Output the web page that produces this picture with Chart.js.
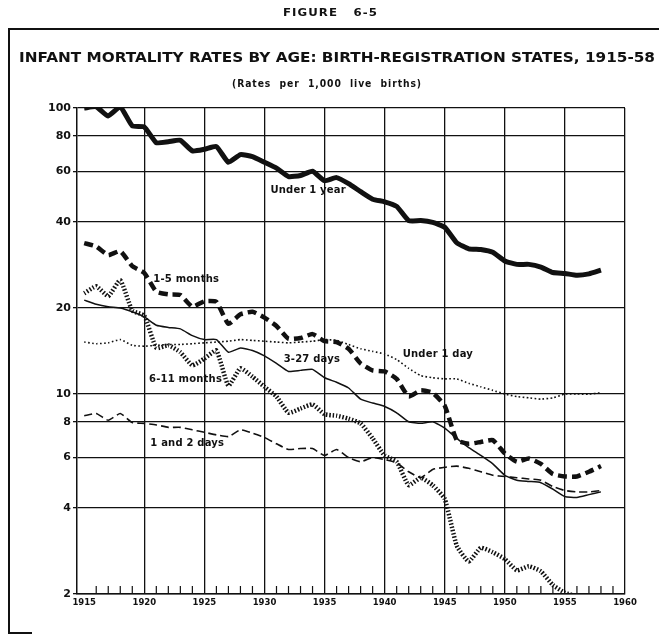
<!DOCTYPE html>
<html>
<head>
<meta charset="utf-8">
<script src="https://cdn.jsdelivr.net/npm/chart.js@4"></script>
<style>
body{margin:0;background:#fff;}
#wrap{position:relative;width:659px;height:641px;overflow:hidden;background:#fff;font-family:"DejaVu Sans",sans-serif;color:#111;}
canvas{position:absolute;left:0;top:0;}
.t{position:absolute;white-space:nowrap;transform-origin:0 0;}
.ln{position:absolute;background:#111;}
</style>
</head>
<body>
<div id="wrap">
<canvas id="c" width="659" height="641"></canvas>
<div class="t" id="fig" style="top:6px;font-size:11px;font-weight:bold;letter-spacing:1px">FIGURE&nbsp;&nbsp;&nbsp;6-5</div>
<div class="ln" style="left:8px;top:28px;width:651px;height:2px"></div>
<div class="ln" style="left:8px;top:28px;width:2px;height:606px"></div>
<div class="ln" style="left:8px;top:632px;width:24px;height:2px"></div>
<div class="t" id="title" style="top:49px;font-size:14px;font-weight:bold">INFANT MORTALITY RATES BY AGE: BIRTH-REGISTRATION STATES, 1915-58</div>
<div class="t" id="sub" style="top:78px;font-size:10px;font-weight:bold;letter-spacing:1px">(Rates&nbsp; per&nbsp; 1,000&nbsp; live&nbsp; births)</div>
</div>
<script>
const years = [1915,1916,1917,1918,1919,1920,1921,1922,1923,1924,1925,1926,1927,1928,1929,
  1930,1931,1932,1933,1934,1935,1936,1937,1938,1939,1940,1941,1942,1943,1944,
  1945,1946,1947,1948,1949,1950,1951,1952,1953,1954,1955,1956,1957,1958];

const under1Year = [99.9,101.0,93.8,100.9,86.6,85.8,75.6,76.2,77.1,70.8,71.7,73.3,64.6,68.7,67.6,
  64.6,61.6,57.6,58.1,60.1,55.7,57.1,54.4,51.0,48.0,47.0,45.3,40.4,40.4,39.8,
  38.3,33.8,32.2,32.0,31.3,29.2,28.4,28.4,27.8,26.6,26.4,26.0,26.3,27.1];

const months1to5 = [33.7,32.8,30.6,31.6,28.0,26.5,22.8,22.3,22.2,20.2,21.1,21.0,17.6,19.0,19.4,
  18.5,17.3,15.6,15.7,16.2,15.3,15.2,14.4,12.8,12.1,12.0,11.3,9.8,10.3,10.1,
  9.1,6.9,6.7,6.8,6.9,6.2,5.8,5.95,5.7,5.25,5.15,5.15,5.35,5.6];

const days3to27 = [21.3,20.6,20.2,20.0,19.4,18.6,17.4,17.1,16.9,16.0,15.5,15.5,14.0,14.5,14.2,
  13.6,12.8,12.0,12.1,12.2,11.4,11.0,10.5,9.6,9.3,9.05,8.6,8.0,7.9,8.0,
  7.6,7.0,6.5,6.1,5.7,5.2,5.0,4.95,4.9,4.65,4.38,4.35,4.45,4.55];

const under1Day = [15.2,15.0,15.1,15.5,14.8,14.7,14.8,14.9,14.9,15.0,15.1,15.2,15.3,15.5,15.4,
  15.3,15.2,15.1,15.2,15.3,15.5,15.4,14.9,14.4,14.1,13.8,13.2,12.3,11.6,11.4,
  11.3,11.3,10.9,10.6,10.3,10.0,9.8,9.7,9.6,9.7,10.0,10.0,10.0,10.1];

const months6to11 = [22.5,23.8,22.0,25.0,19.6,18.8,14.5,14.8,14.0,12.6,13.3,14.2,10.7,12.3,11.5,
  10.6,9.8,8.6,8.9,9.2,8.5,8.4,8.2,7.9,7.0,6.1,5.8,4.8,5.1,4.8,
  4.3,2.95,2.6,2.9,2.8,2.65,2.42,2.5,2.4,2.15,2.02,1.96,1.9,1.85];

const days1and2 = [8.4,8.55,8.1,8.55,7.95,7.9,7.8,7.65,7.65,7.5,7.35,7.2,7.1,7.5,7.3,
  7.05,6.7,6.4,6.45,6.45,6.1,6.4,6.0,5.8,6.0,5.9,5.75,5.35,5.1,5.45,
  5.55,5.6,5.5,5.35,5.2,5.15,5.1,5.05,5.0,4.75,4.6,4.55,4.55,4.6];

const yTicks = [2,4,6,8,10,20,40,60,80,100];
const tickYears = [1915,1916,1917,1918,1919,1920,1921,1922,1923,1924,1925,1926,1927,1928,1929,
  1930,1931,1932,1933,1934,1935,1936,1937,1938,1939,1940,1941,1942,1943,1944,
  1945,1946,1947,1948,1949,1950,1951,1952,1953,1954,1955,1956,1957,1958,1959,1960];

// where the curve names sit, in data units (year, rate)
const lineLabels = [
  {text:'Under 1 year', x:1930.5, y:51.6},
  {text:'1-5 months', x:1920.75, y:25.1},
  {text:'3-27 days', x:1931.6, y:13.2},
  {text:'Under 1 day', x:1941.5, y:13.75},
  {text:'6-11 months', x:1920.4, y:11.25},
  {text:'1 and 2 days', x:1920.5, y:6.73}
];

function fit(id, left, width){
  const el = document.getElementById(id);
  const w = el.getBoundingClientRect().width;
  el.style.left = left + 'px';
  el.style.transform = 'scaleX(' + (width / w) + ')';
}
fit('fig', 283, 95);
fit('title', 19, 636);
fit('sub', 232, 190);

const ink = '#111';
function series(vals){ return vals.map((v,i)=>({x:years[i], y:v})); }

const sets = [
  {label:'Under 1 year', data:series(under1Year), borderWidth:5},
  {label:'1-5 months', data:series(months1to5), borderWidth:4.5, borderDash:[9,5]},
  {label:'6-11 months', data:series(months6to11), borderWidth:4.5, borderDash:[1.5,1.8]},
  {label:'3-27 days', data:series(days3to27), borderWidth:1.5},
  {label:'Under 1 day', data:series(under1Day), borderWidth:1.6, borderDash:[1.6,2.4]},
  {label:'1 and 2 days', data:series(days1and2), borderWidth:1.6, borderDash:[8,4]}
].map(d => Object.assign({borderColor:ink, pointRadius:0, fill:false, tension:0.15,
  borderCapStyle:'butt', borderJoinStyle:'round'}, d));

const extras = {
  id:'extras',
  afterDatasetsDraw(chart){
    const {ctx, chartArea:a, scales:{x, y}} = chart;
    ctx.save();
    ctx.strokeStyle = ink;
    ctx.lineWidth = 1.2;
    for (const yr of tickYears) {
      if (yr % 5 === 0) continue;
      const px = x.getPixelForValue(yr);
      ctx.beginPath();
      ctx.moveTo(px, a.bottom);
      ctx.lineTo(px, a.bottom - 8);
      ctx.stroke();
    }
    ctx.fillStyle = ink;
    ctx.font = 'bold 10px "DejaVu Sans"';
    ctx.letterSpacing = '0.2px';
    ctx.textBaseline = 'middle';
    for (const l of lineLabels) {
      ctx.fillText(l.text, x.getPixelForValue(l.x), y.getPixelForValue(l.y));
    }
    ctx.restore();
  }
};

new Chart(document.getElementById('c'), {
  type:'line',
  data:{datasets:sets},
  options:{
    responsive:false,
    animation:false,
    devicePixelRatio:1,
    layout:{padding:{left:0, right:34, top:108, bottom:0}},
    plugins:{legend:{display:false}, tooltip:{enabled:false}},
    scales:{
      x:{
        type:'linear', min:1914.4, max:1960,
        afterBuildTicks: s => { s.ticks = tickYears.map(v => ({value:v})); },
        afterFit: s => { s.height = 47; },
        ticks:{autoSkip:false, maxRotation:0, padding:4, color:ink,
          font:{family:'DejaVu Sans', size:8.5, weight:'bold'},
          callback: v => (v % 5 === 0 ? String(v) : '')},
        grid:{drawTicks:false, lineWidth:1.3,
          color: c => (c.tick && c.tick.value % 5 === 0 && c.tick.value > 1915 ? ink : 'rgba(0,0,0,0)')},
        border:{color:ink, width:1.5}
      },
      y:{
        type:'logarithmic', min:2, max:100,
        afterBuildTicks: s => { s.ticks = yTicks.map(v => ({value:v})); },
        afterFit: s => { s.width = 77; },
        ticks:{padding:2, color:ink, font:{family:'DejaVu Sans', size:11, weight:'bold'},
          callback: v => String(v)},
        grid:{color:ink, lineWidth:1.3, tickLength:4},
        border:{color:ink, width:1.5}
      }
    }
  },
  plugins:[extras]
});
</script>
</body>
</html>
